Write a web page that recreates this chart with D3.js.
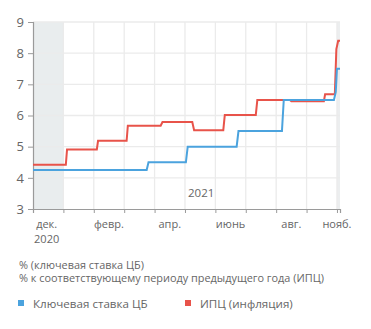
<!DOCTYPE html>
<html><head><meta charset="utf-8">
<script src="https://cdn.jsdelivr.net/npm/d3@7"></script>
<style>
html,body{margin:0;padding:0;background:#fff;}
text{font-family:"Open Sans",sans-serif;}
</style></head>
<body><svg id="c" width="371" height="329"></svg>
<script>
// x positions are in month units from 1 Dec 2020 (gridlines at month boundaries)
const yTicks = [3,4,5,6,7,8,9];
const monthGrid = [0,1,2,3,4,5,6,7,8,9,10];
const xLabels = ["дек.","февр.","апр.","июнь","авг.","нояб."];
const xLabelPos = [0.45,2.5,4.5,6.5,8.5,10.0];
const yearLabel = "2020";
const innerYearLabel = "2021";

const keyRateX = [0,3.74,3.8,5.03,5.09,6.7,6.76,8.19,8.25,9.9,9.96,10.0,10.1];
const keyRateY = [4.25,4.25,4.5,4.5,5.0,5.0,5.5,5.5,6.5,6.5,6.75,7.5,7.5];

const cpiX = [0,1.08,1.12,2.1,2.14,3.08,3.12,4.2,4.26,5.24,5.3,6.26,6.31,7.33,7.38,8.45,8.5,9.57,9.61,9.93,9.98,10.04,10.1];
const cpiY = [4.42,4.42,4.91,4.91,5.19,5.19,5.67,5.67,5.79,5.79,5.53,5.53,6.02,6.02,6.5,6.5,6.46,6.46,6.68,6.68,8.13,8.4,8.4];

const unitLines = ["% (ключевая ставка ЦБ)","% к соответствующему периоду предыдущего года (ИПЦ)"];
const seriesNames = ["Ключевая ставка ЦБ","ИПЦ (инфляция)"];
const seriesColors = ["#4ba3de","#e8534a"];

const svg = d3.select("#c");
const L=33, R=340, T=22, B=209;
const x = d3.scaleLinear().domain([0,10.1]).range([L,R]);
const y = d3.scaleLinear().domain([3,9]).range([B,T]);

// shaded bands
svg.append("rect").attr("x",x(0)).attr("y",T).attr("width",x(1)-x(0)).attr("height",B-T).attr("fill","#e9edee");
svg.append("rect").attr("x",x(10)).attr("y",T).attr("width",x(10.1)-x(10)).attr("height",B-T).attr("fill","#eceeef");

// grid
svg.append("g").selectAll("line").data(yTicks.slice(1)).join("line")
  .attr("x1",L).attr("x2",R).attr("y1",d=>y(d)).attr("y2",d=>y(d))
  .attr("stroke","#ebebeb").attr("stroke-width",1.3);
svg.append("g").selectAll("line").data(monthGrid.slice(1)).join("line")
  .attr("x1",d=>x(d)).attr("x2",d=>x(d)).attr("y1",T).attr("y2",B)
  .attr("stroke","#ebebeb").attr("stroke-width",1.3);

// axes
const yAxis = svg.append("g").attr("transform",`translate(${L},0)`)
  .call(d3.axisLeft(y).tickValues(yTicks).tickSize(5).tickPadding(4).tickFormat(d3.format("d")));
yAxis.select(".domain").attr("stroke","#9a9a9a").attr("stroke-width",1.2);
yAxis.selectAll(".tick line").attr("stroke","#9a9a9a");
yAxis.selectAll("text").attr("fill","#666").style("font-size","13px").style("font-family","'Open Sans',sans-serif");

const xAxis = svg.append("g").attr("transform",`translate(0,${B})`)
  .call(d3.axisBottom(x).tickValues(monthGrid).tickSize(4).tickFormat(""));
xAxis.select(".domain").attr("stroke","#9a9a9a").attr("stroke-width",1.2);
xAxis.selectAll(".tick line").attr("stroke","#9a9a9a");

svg.append("g").selectAll("text").data(xLabels).join("text")
  .attr("x",(d,i)=>x(xLabelPos[i])).attr("y",227.5).attr("text-anchor","middle")
  .attr("fill","#666").style("font-size","11px").text(d=>d);
svg.append("text").attr("x",x(xLabelPos[0])).attr("y",242.5).attr("text-anchor","middle")
  .attr("fill","#666").style("font-size","11px").text(yearLabel);
svg.append("text").attr("x",x(5.1)).attr("y",197).attr("text-anchor","start")
  .attr("fill","#666").style("font-size","11.5px").text(innerYearLabel);

// lines
const line = d3.line().x(d=>x(d[0])).y(d=>y(d[1]));
const kr = keyRateX.map((v,i)=>[v,keyRateY[i]]);
const cpi = cpiX.map((v,i)=>[v,cpiY[i]]);
svg.append("path").datum(cpi).attr("d",line).attr("fill","none").attr("stroke",seriesColors[1]).attr("stroke-width",2);
svg.append("path").datum(kr).attr("d",line).attr("fill","none").attr("stroke",seriesColors[0]).attr("stroke-width",2);

// unit text
svg.append("g").selectAll("text").data(unitLines).join("text")
  .attr("x",19).attr("y",(d,i)=>268.5+i*13.5).attr("fill","#666")
  .style("font-size","10.9px").text(d=>d);

// legend
const lg = svg.append("g").selectAll("g").data(seriesNames).join("g")
  .attr("transform",(d,i)=>`translate(${i===0?18:185},300)`);
lg.append("rect").attr("width",6).attr("height",6).attr("fill",(d,i)=>seriesColors[i]);
lg.append("text").attr("x",15).attr("y",7.5).attr("fill","#666").style("font-size","11.6px").text(d=>d);
</script></body></html>
